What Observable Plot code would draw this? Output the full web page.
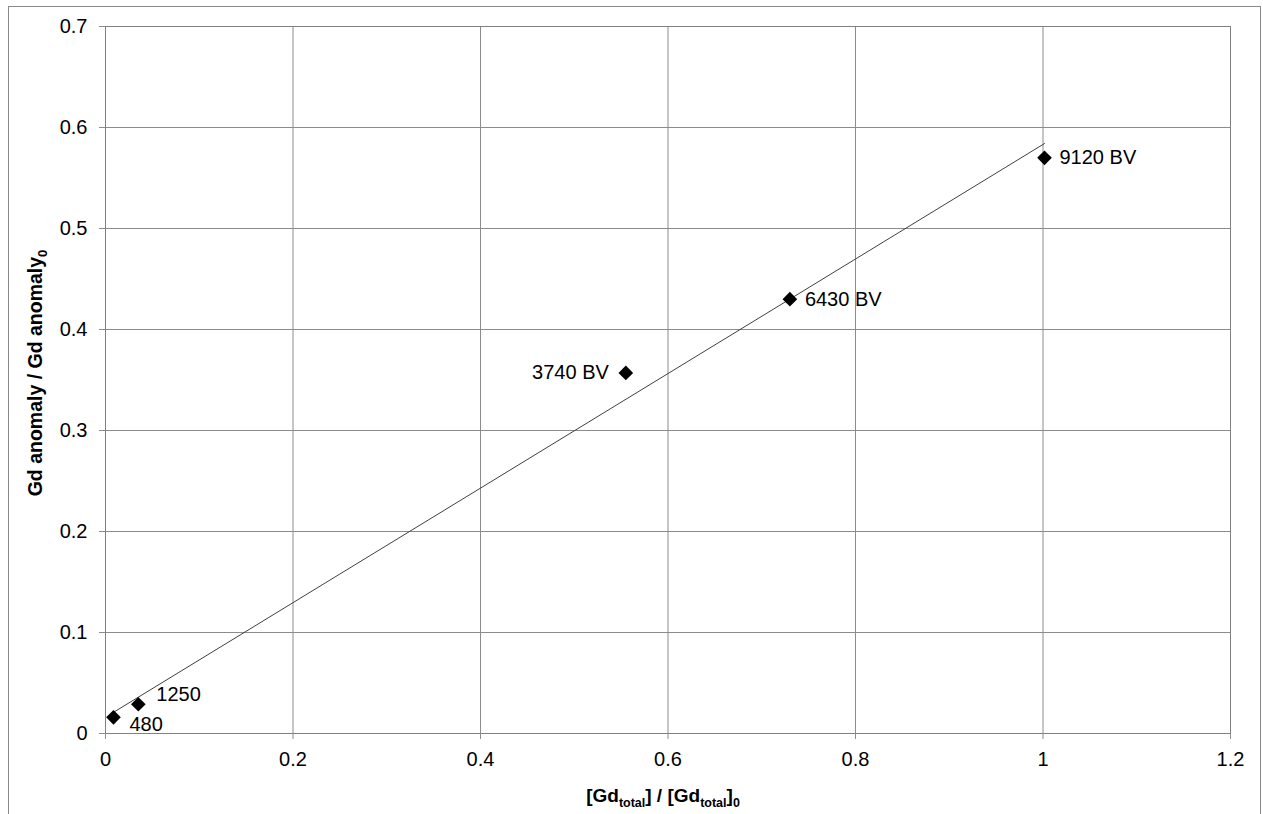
<!DOCTYPE html>
<html>
<head>
<meta charset="utf-8">
<script src="https://cdn.jsdelivr.net/npm/d3@7"></script>
<script src="https://cdn.jsdelivr.net/npm/@observablehq/plot@0.6"></script>
<style>
  html, body { margin: 0; padding: 0; background: #fff; overflow: hidden; }
  body { font-family: "Liberation Sans", Arial, sans-serif; }
  #outer { position: absolute; left: 8px; top: 6px; width: 1253px; height: 900px; box-sizing: border-box; border: 1px solid #8a8a8a; }
  #chart { position: absolute; left: 0; top: 0; }
</style>
</head>
<body>
<div id="outer"></div>
<div id="chart"></div>
<script>
// ---- data ----
const pointLabels = ["480", "1250", "3740 BV", "6430 BV", "9120 BV"];
const gdTotalRatio = [0.0085, 0.035, 0.555, 0.730, 1.0016];
const anomalyRatio = [0.016, 0.029, 0.357, 0.430, 0.570];
const xTicks = [0, 0.2, 0.4, 0.6, 0.8, 1.0, 1.2];
const yTicks = [0, 0.1, 0.2, 0.3, 0.4, 0.5, 0.6, 0.7];

const data = pointLabels.map((label, i) => ({ label, x: gdTotalRatio[i], y: anomalyRatio[i] }));

// label placement (style only)
const labelPlacement = {
  "480":     { dx: 16,  dy: 7,   anchor: "start" },
  "1250":    { dx: 18,  dy: -10, anchor: "start" },
  "3740 BV": { dx: -17, dy: 0,   anchor: "end" },
  "6430 BV": { dx: 15,  dy: 0,   anchor: "start" },
  "9120 BV": { dx: 15,  dy: 0,   anchor: "start" }
};

const fmt = d => String(+d.toFixed(1));
const gridColor = "#8c8c8c";

const labelMarks = pointLabels.map(lab => {
  const p = labelPlacement[lab];
  return Plot.text(data.filter(d => d.label === lab), {
    x: "x", y: "y", text: "label",
    dx: p.dx, dy: p.dy, textAnchor: p.anchor,
    fill: "#000", fontSize: 20
  });
});

const plot = Plot.plot({
  width: 1263,
  height: 814,
  marginLeft: 105,
  marginRight: 33,
  marginTop: 26,
  marginBottom: 81,
  style: { fontFamily: "'Liberation Sans', Arial, sans-serif", fontSize: "20px", background: "transparent", overflow: "visible" },
  x: { domain: [0, 1.2] },
  y: { domain: [0, 0.7] },
  marks: [
    Plot.gridX(xTicks, { stroke: gridColor, strokeOpacity: 1 }),
    Plot.gridY(yTicks, { stroke: gridColor, strokeOpacity: 1 }),
    Plot.frame({ stroke: "#808080" }),
    Plot.axisX({ ticks: xTicks, tickFormat: fmt, tickSize: 6, tickPadding: 12, stroke: gridColor, label: null, fill: "#000", fontSize: 20 }),
    Plot.axisY({ ticks: yTicks, tickFormat: fmt, tickSize: 6, tickPadding: 12, stroke: gridColor, label: null, fill: "#000", fontSize: 20 }),
    Plot.linearRegressionY(data, { x: "x", y: "y", stroke: "#404040", strokeWidth: 1, ci: 0 }),
    Plot.dot(data, { x: "x", y: "y", symbol: "diamond2", r: 6.6, fill: "#000", stroke: "none" }),
    ...labelMarks
  ]
});

document.getElementById("chart").appendChild(plot);

// axis titles with subscripts
const svg = d3.select(plot);
const xt = svg.append("text")
  .attr("x", 663).attr("y", 802)
  .attr("text-anchor", "middle")
  .attr("font-weight", "bold").attr("font-size", 19).attr("fill", "#000");
xt.append("tspan").text("[Gd");
xt.append("tspan").attr("font-size", 12.5).attr("dy", 5).text("total");
xt.append("tspan").attr("dy", -5).text("] / [Gd");
xt.append("tspan").attr("font-size", 12.5).attr("dy", 5).text("total");
xt.append("tspan").attr("dy", -5).text("]");
xt.append("tspan").attr("font-size", 12.5).attr("dy", 5).text("0");

const yt = svg.append("text")
  .attr("transform", "translate(42,373) rotate(-90)")
  .attr("text-anchor", "middle")
  .attr("font-weight", "bold").attr("font-size", 19.5).attr("fill", "#000");
yt.append("tspan").text("Gd anomaly / Gd anomaly");
yt.append("tspan").attr("font-size", 13).attr("dy", 5).text("0");
</script>
</body>
</html>
